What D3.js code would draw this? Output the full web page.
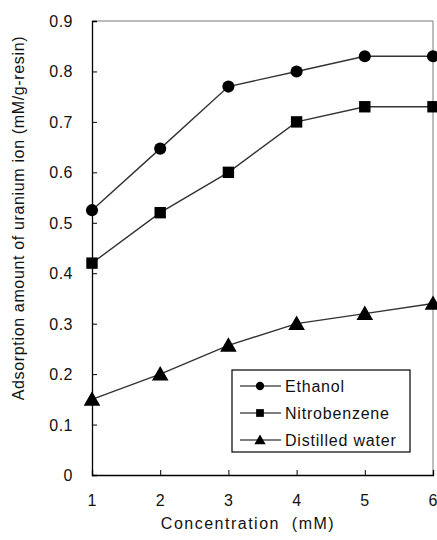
<!DOCTYPE html>
<html>
<head>
<meta charset="utf-8">
<script src="https://cdn.jsdelivr.net/npm/d3@7"></script>
<style>
  html, body { margin: 0; padding: 0; background: #fff; }
  text { font-family: "Liberation Sans", Arial, sans-serif; fill: #111; white-space: pre; }
</style>
</head>
<body>
<svg id="chart" width="437" height="540"></svg>
<script>
// Uranium ion adsorption vs. concentration for three solvents
const concentrations = [1, 2, 3, 4, 5, 6];
const ethanol        = [0.525, 0.647, 0.77, 0.80, 0.83, 0.83];
const nitrobenzene   = [0.42, 0.52, 0.60, 0.70, 0.73, 0.73];
const distilledWater = [0.15, 0.20, 0.257, 0.30, 0.32, 0.34];
const seriesNames    = ["Ethanol", "Nitrobenzene", "Distilled water"];
const yTickValues    = [0, 0.1, 0.2, 0.3, 0.4, 0.5, 0.6, 0.7, 0.8, 0.9];
const yTickLabels    = ["0", "0.1", "0.2", "0.3", "0.4", "0.5", "0.6", "0.7", "0.8", "0.9"];

const seriesValues = [ethanol, nitrobenzene, distilledWater];
const markerTypes = [d3.symbolCircle, d3.symbolSquare, d3.symbolTriangle];

const svg = d3.select("#chart");
const m = { left: 92, right: 4, top: 21, bottom: 65 };
const W = 437, H = 540;
const x = d3.scaleLinear().domain([1, 6]).range([m.left, W - m.right]);
const y = d3.scaleLinear().domain([0, 0.9]).range([H - m.bottom, m.top]);

// frame (top and right edges)
svg.append("path")
  .attr("d", `M${x(1)},${y(0.9)}H${x(6)}V${y(0)}`)
  .attr("fill", "none").attr("stroke", "#7a7a7a").attr("stroke-width", 1);

// y axis with inward ticks
const yAxis = d3.axisRight(y).tickValues(yTickValues).tickSize(5).tickFormat("");
const gy = svg.append("g").attr("transform", `translate(${x(1)},0)`).call(yAxis);
gy.select(".domain").attr("stroke", "#000").attr("stroke-width", 1.3);
gy.selectAll(".tick line").attr("stroke", "#000");
svg.append("g").selectAll("text").data(yTickValues).join("text")
  .attr("x", 73).attr("y", d => y(d) + 6)
  .attr("text-anchor", "end")
  .style("font-size", "16px").style("letter-spacing", "0.5px")
  .text((d, i) => yTickLabels[i]);

// x axis with inward ticks
const xAxis = d3.axisTop(x).tickValues(concentrations).tickSize(5).tickFormat("");
const gx = svg.append("g").attr("transform", `translate(0,${y(0)})`).call(xAxis);
gx.select(".domain").attr("stroke", "#000").attr("stroke-width", 1.3);
gx.selectAll(".tick line").attr("stroke", "#000");
svg.append("g").selectAll("text").data(concentrations).join("text")
  .attr("x", d => x(d)).attr("y", 506)
  .attr("text-anchor", "middle")
  .style("font-size", "16px")
  .text(d => d);

// axis titles
svg.append("text")
  .attr("x", 248).attr("y", 529)
  .attr("text-anchor", "middle")
  .style("font-size", "16px").style("letter-spacing", "1.5px")
  .text("Concentration  (mM)");
svg.append("text")
  .attr("transform", `translate(24,218) rotate(-90)`)
  .attr("text-anchor", "middle")
  .style("font-size", "16px").style("letter-spacing", "0.65px")
  .text("Adsorption amount of uranium ion (mM/g-resin)");

// series lines and markers
const line = d3.line().x((d, i) => x(concentrations[i])).y(d => y(d));
const markerSize = [115, 130, 120];
seriesValues.forEach((vals, s) => {
  svg.append("path").datum(vals)
    .attr("d", line)
    .attr("fill", "none").attr("stroke", "#333").attr("stroke-width", 1.4);
  svg.append("g").selectAll("path").data(vals).join("path")
    .attr("transform", (d, i) => `translate(${x(concentrations[i])},${y(d) + (s === 2 ? 1.5 : 0)})`)
    .attr("d", d3.symbol().type(markerTypes[s]).size(markerSize[s]))
    .attr("fill", "#000");
});

// legend
const lg = svg.append("g");
lg.append("rect")
  .attr("x", 232).attr("y", 370).attr("width", 178).attr("height", 82)
  .attr("fill", "#fff").attr("stroke", "#000").attr("stroke-width", 1.2);
const legendRows = [386, 413, 440];
seriesNames.forEach((name, s) => {
  const ly = legendRows[s];
  lg.append("line").attr("x1", 240).attr("x2", 281).attr("y1", ly).attr("y2", ly)
    .attr("stroke", "#000").attr("stroke-width", 1.2);
  lg.append("path")
    .attr("transform", `translate(260,${ly + (s === 2 ? 1 : 0)})`)
    .attr("d", d3.symbol().type(markerTypes[s]).size([55, 60, 55][s]))
    .attr("fill", "#000");
  lg.append("text")
    .attr("x", 285).attr("y", ly + 6)
    .style("font-size", "16px").style("letter-spacing", "0.8px")
    .text(name);
});
</script>
</body>
</html>
